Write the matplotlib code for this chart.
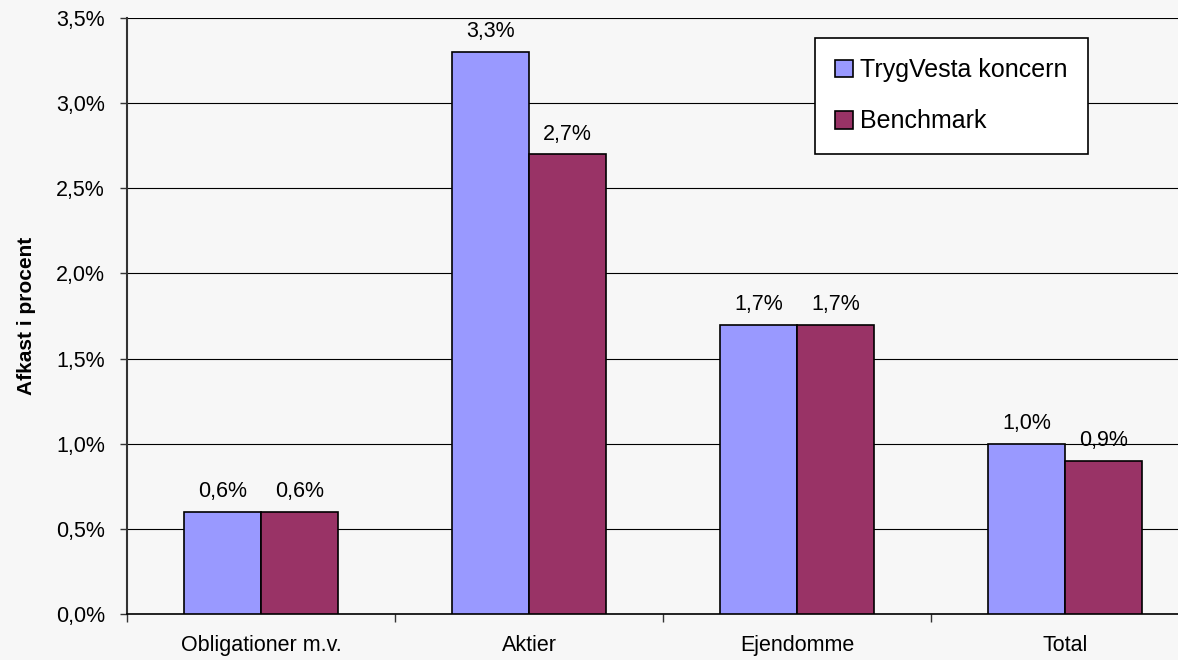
import matplotlib.pyplot as plt
import numpy as np
from matplotlib.ticker import FuncFormatter

plt.rcParams['font.family'] = ['Liberation Sans', 'DejaVu Sans']

categories = ['Obligationer m.v.', 'Aktier', 'Ejendomme', 'Total']
tryg = [0.6, 3.3, 1.7, 1.0]
bench = [0.6, 2.7, 1.7, 0.9]
series_names = ['TrygVesta koncern', 'Benchmark']

bg = '#f7f7f7'
fs = 15.5
fig = plt.figure(figsize=(11.78, 6.6), dpi=100, facecolor=bg)
# axes runs a bit past the right edge, like the source
ax = fig.add_axes([127 / 1178, 46 / 660, 1072 / 1178, 596 / 660], facecolor=bg)

x = np.arange(len(categories))
w = 0.287
b1 = ax.bar(x - w / 2, tryg, w, color='#9999ff', edgecolor='black', linewidth=1.2,
            label=series_names[0], zorder=3)
b2 = ax.bar(x + w / 2, bench, w, color='#993366', edgecolor='black', linewidth=1.2,
            label=series_names[1], zorder=3)

for bars in (b1, b2):
    for r in bars:
        v = r.get_height()
        ax.annotate(f'{v:.1f}%'.replace('.', ','), (r.get_x() + r.get_width() / 2, v),
                    xytext=(0, 7), textcoords='offset points', ha='center', va='bottom',
                    fontsize=fs)

ax.set_xlim(-0.5, 3.5)
ax.set_ylim(0, 3.5)
ax.set_yticks(np.arange(0, 3.51, 0.5))
ax.yaxis.set_major_formatter(FuncFormatter(lambda v, p: f'{v:.1f}%'.replace('.', ',')))
ax.yaxis.grid(True, color='black', linewidth=0.8, zorder=0)
ax.set_axisbelow(True)

ax.set_xticks(x)
ax.set_xticklabels(categories)
ax.set_xticks(np.arange(-0.5, 3.6, 1), minor=True)
ax.tick_params(axis='x', which='major', length=0, pad=15, labelsize=fs)
ax.tick_params(axis='x', which='minor', length=6, width=1, color='#333333')
ax.tick_params(axis='y', length=5, width=1, color='#333333', labelsize=fs, pad=11)

for s in ['top', 'right']:
    ax.spines[s].set_visible(False)
ax.spines['left'].set_linewidth(1.5)
ax.spines['left'].set_color('#333333')
ax.spines['bottom'].set_linewidth(1.2)

ax.set_ylabel('Afkast i procent', fontsize=15, fontweight='bold', labelpad=14)

leg = ax.legend(loc='upper left', bbox_to_anchor=(688 / 1072, 1 - 20 / 596),
                frameon=True, fancybox=False, edgecolor='black', facecolor='white',
                framealpha=1, fontsize=18, handlelength=0.7, handleheight=0.7,
                handletextpad=0.3, labelspacing=1.1, borderpad=0.8, borderaxespad=0)
leg.get_frame().set_linewidth(1.2)

fig.savefig('out.png', dpi=100, facecolor=bg)
